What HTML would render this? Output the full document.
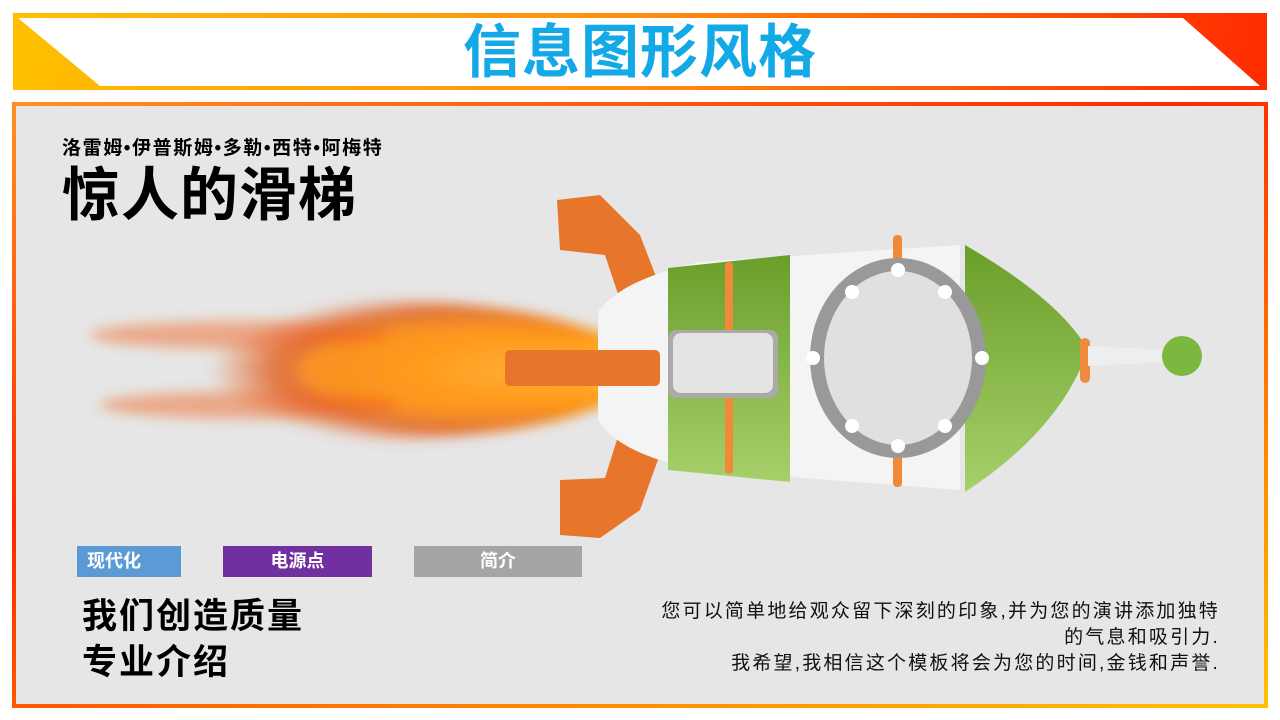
<!DOCTYPE html>
<html><head><meta charset="utf-8"><style>
body{margin:0;width:1280px;height:720px;background:#fff;position:relative;overflow:hidden;font-family:"Liberation Sans","Noto Sans CJK SC",sans-serif;}
.abs{position:absolute;}
.hdr{left:13px;top:13px;width:1254px;height:77px;background:linear-gradient(100deg,#ffc000 0%,#ff8c10 50%,#ff2a00 100%);}
.panel{left:12px;top:102px;width:1248px;height:598px;border:4px solid;border-image:linear-gradient(160deg,#ff9020,#ff2a00 40%,#ff7a00 70%,#ffc000) 1;background:#e6e6e6;}
.t{white-space:nowrap;color:#000;}
.tag{height:31px;color:#fff;font-size:18px;font-weight:bold;line-height:31px;}
</style></head><body>
<div class="abs hdr"></div>
<svg class="abs" style="left:0;top:0" width="1280" height="100">
<polygon points="18,18 1183,18 1260,86 100,86" fill="#fff"/>
</svg>
<div class="abs t" style="left:0;width:1280px;top:16px;text-align:center;font-size:58px;font-weight:bold;color:#12a9e6;line-height:74px;letter-spacing:1px;">信息图形风格</div>
<div class="abs panel"></div>
<div class="abs t" style="left:62px;top:133px;font-size:19px;font-weight:bold;letter-spacing:1.6px;">洛雷姆•伊普斯姆•多勒•西特•阿梅特</div>
<div class="abs t" style="left:62px;top:164px;font-size:58px;font-weight:bold;line-height:64px;letter-spacing:1px;">惊人的滑梯</div>
<svg class="abs" style="left:0;top:0" width="1280" height="720">
<defs>
<radialGradient id="fl" cx="0.8" cy="0.5" r="0.6"><stop offset="0" stop-color="#ffe070"/><stop offset="0.4" stop-color="#ff9a10"/><stop offset="0.8" stop-color="#e04a00" stop-opacity="0.7"/><stop offset="1" stop-color="#e04a00" stop-opacity="0"/></radialGradient>
<linearGradient id="gr" x1="0" y1="0" x2="0" y2="1"><stop offset="0" stop-color="#6a9e2a"/><stop offset="1" stop-color="#a6d06a"/></linearGradient>
<filter id="bl"><feGaussianBlur stdDeviation="6"/></filter>
</defs>
<g filter="url(#bl)">
<ellipse cx="370" cy="370" rx="270" ry="70" fill="url(#fl)"/>
<ellipse cx="450" cy="370" rx="150" ry="45" fill="#ff9a20" opacity="0.7"/>
<ellipse cx="240" cy="335" rx="150" ry="14" fill="#f06010" opacity="0.45"/>
<ellipse cx="250" cy="405" rx="150" ry="14" fill="#f06010" opacity="0.45"/>
</g>
<polygon points="557,200 600,195 640,235 665,300 620,300 605,255 560,250" fill="#e7762a"/>
<polygon points="560,480 605,478 620,430 665,440 640,510 600,538 560,535" fill="#e7762a"/>
<path d="M598,312 Q620,280 700,262 L960,245 L960,490 L700,470 Q620,455 598,420 Z" fill="#f4f4f4"/>
<path d="M668,268 L790,255 L790,482 L668,470 Z" fill="url(#gr)"/>
<path d="M965,245 Q1060,300 1088,350 Q1060,430 965,492 Z" fill="url(#gr)"/>
<rect x="725" y="262" width="8" height="212" rx="4" fill="#ef8a3a"/>
<rect x="893" y="235" width="9" height="252" rx="4" fill="#ef8a3a"/>
<rect x="1080" y="338" width="10" height="45" rx="5" fill="#ef8a3a"/>
<polygon points="1088,346 1170,350 1170,362 1088,366" fill="#eee"/>
<circle cx="1182" cy="356" r="20" fill="#7cb840"/>
<rect x="505" y="350" width="155" height="36" rx="5" fill="#e7762a"/>
<rect x="668" y="330" width="110" height="68" rx="8" fill="#aaa"/>
<rect x="673" y="333" width="100" height="60" rx="8" fill="#e4e4e4"/>
<ellipse cx="898" cy="358" rx="88" ry="100" fill="#999"/>
<ellipse cx="898" cy="358" rx="74" ry="87" fill="#e0e0e0"/>
<g fill="#fff"><circle cx="898" cy="270" r="7"/><circle cx="898" cy="446" r="7"/><circle cx="813" cy="358" r="7"/><circle cx="982" cy="358" r="7"/><circle cx="852" cy="292" r="7"/><circle cx="945" cy="292" r="7"/><circle cx="852" cy="426" r="7"/><circle cx="945" cy="426" r="7"/></g>
</svg>
<div class="abs tag" style="left:77px;top:546px;width:104px;background:#5b9bd5;padding-left:10px;box-sizing:border-box;">现代化</div>
<div class="abs tag" style="left:223px;top:546px;width:149px;background:#7030a0;text-align:center;">电源点</div>
<div class="abs tag" style="left:414px;top:546px;width:168px;background:#a5a5a5;text-align:center;">简介</div>
<div class="abs t" style="left:82px;top:594px;font-size:35px;font-weight:bold;line-height:46px;letter-spacing:2px;">我们创造质量<br>专业介绍</div>
<div class="abs t" style="right:60px;top:599px;font-size:19px;line-height:26px;text-align:right;color:#111;letter-spacing:2.2px;">您可以简单地给观众留下深刻的印象,并为您的演讲添加独特<br>的气息和吸引力.<br>我希望,我相信这个模板将会为您的时间,金钱和声誉.</div>
</body></html>
